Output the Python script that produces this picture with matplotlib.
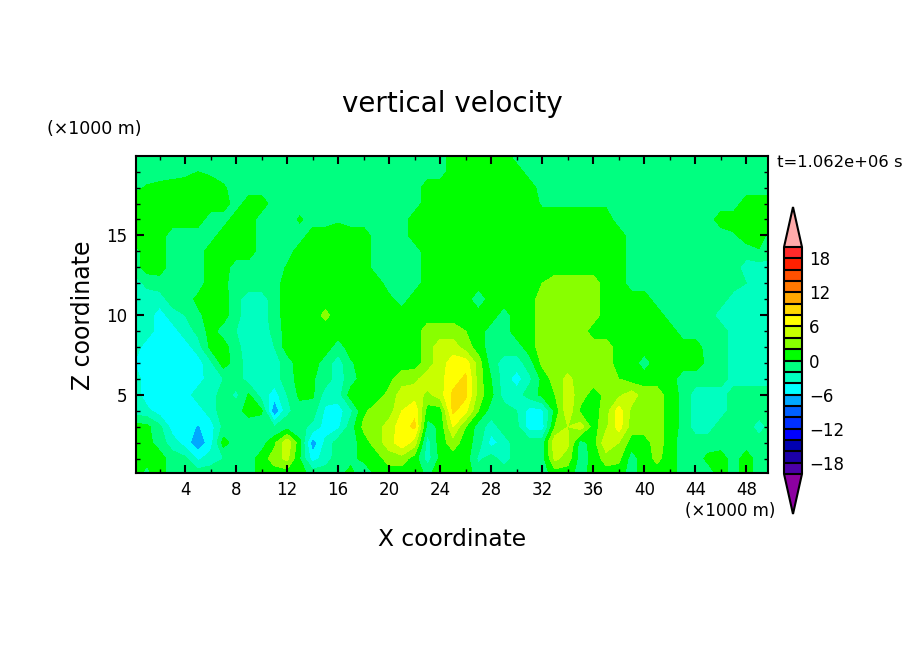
import numpy as np
import matplotlib
matplotlib.use('Agg')
import matplotlib.pyplot as plt
from matplotlib.colors import ListedColormap, BoundaryNorm
from matplotlib.ticker import MultipleLocator

# vertical velocity, one list per height (columns are x = 0..50 km)
w20 = [-1,-1,-1,-1,-1,-1,-1,-1,-1,-1, -1,-1,-1,-1,-1,-1,-1,-1,-1,-1, -1,-1,-1,-1,-1,1,1,1,1,1, -1,-1,-1,-1,-1,-1,-1,-1,-1,-1, -1,-1,-1,-1,-1,-1,-1,-1,-1,-1, -1]
w19 = [-1,-1,-1,-1,-.6,0,-.4,-1,-1,-1, -1,-1,-1,-1,-1,-1,-1,-1,-1,-1, -1,-1,-1,-1,-1,1,1,1,1,1, 1,-1,-1,-1,-1,-1,-1,-1,-1,-1, -1,-1,-1,-1,-1,-1,-1,-1,-1,-1, -1]
w18 = [-.5,.2,.6,1,1,1,1,.3,-1,-1, -1,-1,-1,-1,-1,-1,-1,-1,-1,-1, -1,-1,-1,1,1,1,1,1,1,1, 1,1,-1,-1,-1,-1,-1,-1,-1,-1, -1,-1,-1,-1,-1,-1,-1,-1,-1,-1, -1]
w17 = [1,1,1,1,1,1,1,1,-1,1, 1,-1,-1,-1,-1,-1,-1,-1,-1,-1, -1,-1,-1,1,1,1,1,1,1,1, 1,1,-.3,-.3,-.3,-.3,-.3,-.3,-1,-1, -1,-1,-1,-1,-1,-1,-1,-1,1,1, 1]
w16 = [1,1,1,1,1,1,-1,-1,1,1, -1,-1,-1,.3,-1,-1,-.3,-1,-1,-1, -1,-1,1,1,1,1,1,1,1,1, 1,1,1,1,1,1,1,1,-1,-1, -1,-1,-1,-1,-1,-1,1,1,1,1, 1]
w15 = [1,1,1,-1,-1,-1,-1,1,1,1, -1,-1,-1,-1,1,1,1,1,1,-1, -1,-1,1,1,1,1,1,1,1,1, 1,1,1,1,1,1,1,1,1,-1, -1,-1,-1,-1,-1,-1,-1,-.3,1,1, -1]
w14 = [-1,1,1,-1,-1,-1,1,1,1,1, -1,-1,-1,1,1,1,1,1,1,-1, -1,-1,-1,1,1,1,1,1,1,1, 1,1,1,1,1,1,1,1,1,-1, -1,-1,-1,-1,-1,-1,-1,-1,-1,-.2, -1]
w13 = [-1,1,1,-1,-1,-1,1,1,-1,-1, -1,-1,.2,1,1,1,1,1,1,-1, -1,-1,-1,1,1,1,1,1,1,1, 1,1,1,1,1,1,1,1,1,-1, -1,-1,-1,-1,-1,-1,-1,-1,-3,-3, -3]
w12 = [-3,-1.5,-1,-1,-1,-1,1,.5,-1,-1, -1,-1,1,1,1,1,1,1,1,1, -1,-1,-1,1,1,1,1,1,1,1, 1,1,2,3,3,3,3,1,1,-1, -1,-1,-1,-1,-1,-1,-1,-1,-2,-3, -3]
w11 = [-3,-3,-3,-1,-1,.5,1,1,-1.5,-3, -3,-1,1,1,1,1,1,1,1,1, .5,-1,1,1,1,1,1,-1.5,1,1, 1,1,3,3,3,3,3,1,1,1, 1,-1,-1,-1,-1,-1,-1,-3,-3,-3, -3]
w10 = [-3,-3,-5,-3,-2,-.5,1,1,-1.5,-3, -3,-1,1,1,1,2.5,1,1,1,1, 1,1,1,1,1,1,1,1,1,-1, 1,1,3,3,3,3,3,1,1,1, 1,1,-1,-1,-1,-1,-3,-3,-3,-3, -3]
w9 = [-3,-3,-5,-5,-3,-1.5,.8,-1,-2,-3, -3,-1.5,1,1,1,1,1,1,1,1, 1,1,1,3,3,3,2,1,-1,-1, 1,1,3,3,3,3,1,1,1,1, 1,1,1,-1,-1,-1,-1,-3,-3,-3, -3]
w8 = [-3,-5,-5,-5,-5,-3,.5,1,-1.5,-3, -3,-2,1,1,1,1,-1,1,1,1, 1,1,1,3,5,5,3,1,-1,-1, -1,1,3,3,3,3,3,3,1,1, 1,1,1,1,1,-1,-1,-3,-3,-3, -3]
w7 = [-4,-5,-5,-5,-5,-5,-2.5,1,-1,-3, -3,-3,-1,1,1,-1,-3,-.3,1,1, 1,1,1,3,5,7,7,3,-1,-3, -3,-1,2.5,3,3,3,3,3,1,1, -1,1,1,1,1,-.5,-1,-3,-3,-3, -3]
w6 = [-3,-5,-5,-5,-5,-5,-3,-2,-1,-3, -3,-3,-1,.8,.2,-1,-3,-1,1,1, 1.5,3,3.5,5,5.5,7,8.5,3,0,-3, -5,-2.5,.5,3,4.5,3,3,3,2,1, 1,1,1,-1,-1,-1,-1,-3,-3,-3, -3]
w5 = [-3,-5,-5,-5,-5,-3,-3,-1,-2.5,.2, -3,-5,-2,.5,.3,-3,-3,1,1,1, 2.5,5,5,3.5,5,8.5,8.5,3,.5,-3, -3,-1,.5,2,5,3,1,2.5,3.5,5, 3,3,1,-.5,-3,-3,-3,-1,-1,-1, -1]
w4 = [-3,-3.5,-5,-5,-5,-5,-3,-1,-1,1, .3,-8,-2.5,-1,-1,-4.5,-5,-2.5,1.5,3, 3,6,7.5,1,1,8.5,6.5,2,-1,-1, -2,-5,-4.5,.5,5.5,1.5,1,3,7,3.5, 3,3,1,-.5,-3,-3,-3,-1,-1,-1, -1]
w3 = [1,.5,-1.5,-5,-5,-6.2,-5,-1.5,-1,-1.5, -1,-2,-1,-1.5,-2.5,-5,-4.5,-1,2.5,3, 5,7,8.5,-1,.5,6,2,-1,-3,-1, -1.5,-5,-5,2,4,5,1,3.5,7,3, 3,3,1,-.5,-3,-3,-1,-1,-1,-3, -1]
w2 = [1,.8,-1,-3,-5,-7.5,-5,.8,-1,-1.5, -1,1.5,5.5,.5,-7.5,-3.5,-1,-1,1,3, 5,7.5,5,-3,1,3,1,-1,-5,-3, -1,-1,-1,5.5,4.5,-1,1,5.5,4,1, 1,3,1,-1,-1,-1,-1,-1,-1,-1, -1]
w1 = [1,.5,1,-1,-1.5,-4.5,-3,-2,-1,-1, 1,3,4.5,0,-5,-3,-1,-1,1,1, 3,3,1,-3,.5,1,1,-2.5,-1,-3, -1,-1,-1,4.5,3,-1,.5,3,2.5,-1, 1,2.5,1,-1,-1,.5,1,-1,1,-1, -1]
w0 = [1,-.5,1,-1,-1,-1,-1,-1,-1,-1, 1,1,1,1,-1,-1,-1,1,-3,1, 1,1,1,-.5,1,1,1,-1,-1,-1, -1,-1,-1,1,1,-1,1,1,1,-1, 1,1,1,-1,-1,-1,1,-1,1,-1, -1]

x_km = list(range(51))
z_km = [0.1, 1, 2, 3, 4, 5, 6, 7, 8, 9, 10, 11, 12, 13, 14, 15, 16, 17, 18, 19, 20]
w = np.array([w0, w1, w2, w3, w4, w5, w6, w7, w8, w9, w10, w11, w12, w13, w14, w15, w16, w17, w18, w19, w20])

levels = list(range(-20, 21, 2))
colors = ['#4c00a8', '#1c00a8', '#0000b0', '#0000ff', '#0030ff', '#0060ff', '#00a8ff', '#00ffff',
          '#00ffc0', '#00ff80', '#00ff00', '#88ff00', '#c8ff00', '#ffff00', '#ffd800', '#ffa800',
          '#ff7800', '#ff5000', '#ff2000', '#ff2a2a']
cbar_ticks = [-18, -12, -6, 0, 6, 12, 18]
cbar_labels = ['\u221218', '\u221212', '\u22126', '0', '6', '12', '18']

W, H = 904.0, 654.0

def pos(left, top, right, bottom):
    return [left / W, 1 - bottom / H, (right - left) / W, (bottom - top) / H]

def label(px, py, s, **kw):
    fig.text(px / W, 1 - py / H, s, va='center', **kw)

cmap = ListedColormap(colors)
cmap.set_over('#ffaaaa')
cmap.set_under('#8c00a0')
norm = BoundaryNorm(levels, cmap.N)

fig = plt.figure(figsize=(9.04, 6.54), dpi=100)
ax = fig.add_axes(pos(136, 156, 768, 473))
cf = ax.contourf(x_km, z_km, w, levels=levels, cmap=cmap, norm=norm, extend='both', antialiased=False)
ax.set_xlim(0.15, 49.7)
ax.set_ylim(0.1, 19.98)

ax.xaxis.set_major_locator(MultipleLocator(4))
ax.xaxis.set_minor_locator(MultipleLocator(2))
ax.yaxis.set_major_locator(MultipleLocator(5))
ax.yaxis.set_minor_locator(MultipleLocator(1))
ax.tick_params(which='major', direction='in', top=True, right=True, length=6, width=1.5, labelsize=12, pad=6)
ax.tick_params(which='minor', direction='in', top=True, right=True, length=3, width=1)
for s in ax.spines.values():
    s.set_linewidth(1.5)

cax = fig.add_axes(pos(784, 207, 802, 514))
cb = fig.colorbar(cf, cax=cax, extend='both', extendfrac=0.177, drawedges=True)
cb.set_ticks(cbar_ticks)
cb.set_ticklabels(cbar_labels)
cb.ax.tick_params(length=0, labelsize=12, pad=5)
cb.ax.minorticks_off()
cb.outline.set_linewidth(1.5)
cb.dividers.set_linewidth(1.5)

label(452, 104, 'vertical velocity', ha='center', fontsize=20)
label(47, 129, '(\u00d71000 m)', ha='left', fontsize=12.5)
label(777, 162, 't=1.062e+06 s', ha='left', fontsize=11.8)
label(685, 511, '(\u00d71000 m)', ha='left', fontsize=12)
label(452, 539, 'X coordinate', ha='center', fontsize=16.8)
label(83, 315, 'Z coordinate', ha='center', rotation=90, fontsize=17)

plt.savefig('out.png', dpi=100)
